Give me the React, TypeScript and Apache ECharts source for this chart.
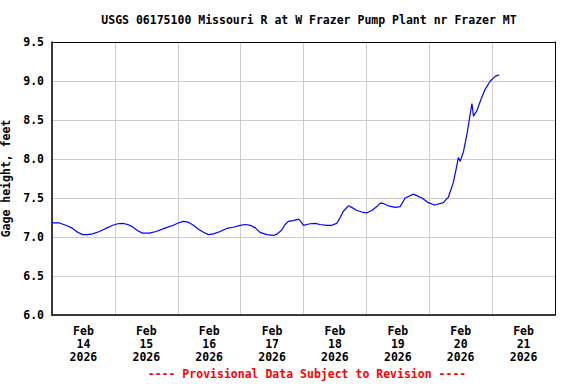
import React, { useEffect, useRef } from "react";
import * as echarts from "echarts";

const titleText = "USGS 06175100 Missouri R at W Frazer Pump Plant nr Frazer MT";
const footerText = "---- Provisional Data Subject to Revision ----";
const yAxisName = "Gage height, feet";
const dayLabels = ["14", "15", "16", "17", "18", "19", "20", "21"];
const monthLabel = "Feb";
const yearLabel = "2026";

// hours since Feb 14 2026 00:00
const hours = [
  0, 2.8, 5.3, 7.9, 9.8, 11.7, 13.6, 15.5, 18.1, 20.6, 23.2, 25.1, 27.0, 28.9,
  30.8, 32.7, 34.6, 37.2, 39.7, 42.9, 46.3, 48.2, 50.1, 52.0, 54.0, 55.9, 57.8,
  59.7, 61.6, 64.2, 66.7, 69.2, 71.8, 73.7, 75.7, 77.5, 79.4, 82.0, 84.5, 86.0,
  87.7, 89.0, 90.2, 92.1, 94.1, 94.7, 96.0, 98.5, 100.4, 102.3, 104.9, 106.8,
  108.7, 110.0, 111.2, 113.1, 114.4, 116.4, 118.3, 120.2, 122.1, 124.0, 125.3,
  126.5, 128.4, 131.0, 132.9, 134.8, 138.0, 141.2, 143.7, 146.0, 149.4, 151.3,
  153.2, 154.5, 155.1, 155.8, 157.1, 158.4, 159.4, 160.3, 160.9, 162.2, 163.8,
  165.3, 167.3, 169.2, 170.7,
];
const gage = [
  7.18, 7.18, 7.15, 7.11, 7.06, 7.03, 7.03, 7.04, 7.07, 7.11, 7.15, 7.17, 7.175,
  7.16, 7.13, 7.08, 7.05, 7.05, 7.07, 7.11, 7.15, 7.18, 7.2, 7.19, 7.15, 7.1,
  7.06, 7.03, 7.04, 7.07, 7.11, 7.125, 7.15, 7.16, 7.15, 7.12, 7.06, 7.03, 7.02,
  7.04, 7.09, 7.16, 7.2, 7.21, 7.23, 7.21, 7.15, 7.17, 7.175, 7.16, 7.15, 7.15,
  7.175, 7.25, 7.33, 7.4, 7.38, 7.34, 7.32, 7.31, 7.34, 7.39, 7.435, 7.43, 7.4,
  7.38, 7.39, 7.5, 7.55, 7.5, 7.44, 7.41, 7.44, 7.51, 7.7, 7.91, 8.02, 7.97,
  8.1, 8.32, 8.53, 8.71, 8.55, 8.62, 8.77, 8.89, 9.0, 9.06, 9.08,
];

const FONT = "DejaVu Sans Mono";

export default function App() {
  const ref = useRef<HTMLDivElement>(null);
  useEffect(() => {
    if (!ref.current) return;
    const chart = echarts.init(ref.current, undefined, { renderer: "svg" });
    const data = hours.map((h, i) => [h, gage[i]]);
    chart.setOption({
      animation: false,
      backgroundColor: "#ffffff",
      textStyle: { fontFamily: FONT },
      title: [
        {
          text: titleText,
          left: 304,
          top: 9,
          padding: 5,
          textAlign: "center",
          textStyle: { fontFamily: FONT, fontSize: 11.5, fontWeight: "bold", color: "#000" },
        },
        {
          text: footerText,
          left: 302,
          top: 363,
          padding: 5,
          textAlign: "center",
          textStyle: { fontFamily: FONT, fontSize: 11.5, fontWeight: "bold", color: "#ff0000" },
        },
      ],
      grid: {
        left: 52,
        right: 21,
        top: 42,
        bottom: 69,
        containLabel: false,
        outerBoundsMode: "none",
      },
      xAxis: [
        {
          type: "value",
          position: "bottom",
          min: 0,
          max: 192,
          interval: 24,
          axisLine: { show: true, onZero: false, lineStyle: { color: "#000", width: 1.5 } },
          axisTick: { show: false },
          axisLabel: { show: false },
          splitLine: { show: true, lineStyle: { color: "#cccccc", width: 1 } },
        },
        {
          type: "value",
          position: "bottom",
          min: 0,
          max: 192,
          interval: 12,
          axisLine: { show: false },
          axisTick: { show: false },
          splitLine: { show: false },
          axisLabel: {
            show: true,
            margin: 9,
            lineHeight: 13,
            fontFamily: FONT,
            fontSize: 11.5,
            fontWeight: "bold",
            color: "#000",
            formatter: (v: number) => {
              if (v % 24 !== 12) return "";
              const d = dayLabels[Math.floor(v / 24)];
              return d ? `${monthLabel}\n${d}\n${yearLabel}` : "";
            },
          },
        },
        {
          type: "value",
          position: "top",
          min: 0,
          max: 192,
          axisLine: { show: true, onZero: false, lineStyle: { color: "#000", width: 1 } },
          axisTick: { show: false },
          axisLabel: { show: false },
          splitLine: { show: false },
        },
      ],
      yAxis: [
        {
          type: "value",
          position: "left",
          min: 6,
          max: 9.5,
          interval: 0.5,
          name: yAxisName,
          nameLocation: "middle",
          nameRotate: 90,
          nameGap: 31,
          nameTextStyle: {
            fontFamily: FONT,
            fontSize: 11.5,
            fontWeight: "bold",
            color: "#000",
          },
          axisLine: { show: true, onZero: false, lineStyle: { color: "#000", width: 1.5 } },
          axisTick: { show: false },
          axisLabel: {
            margin: 8,
            fontFamily: FONT,
            fontSize: 11.5,
            fontWeight: "bold",
            color: "#000",
            formatter: (v: number) => v.toFixed(1),
          },
          splitLine: { show: true, lineStyle: { color: "#cccccc", width: 1 } },
        },
        {
          type: "value",
          position: "right",
          min: 6,
          max: 9.5,
          axisLine: { show: true, onZero: false, lineStyle: { color: "#000", width: 1 } },
          axisTick: { show: false },
          axisLabel: { show: false },
          splitLine: { show: false },
        },
      ],
      series: [
        {
          type: "line",
          xAxisIndex: 0,
          yAxisIndex: 0,
          data,
          showSymbol: false,
          symbol: "none",
          lineStyle: { color: "#0000ff", width: 1.2 },
          z: 3,
        },
      ],
    });
    return () => chart.dispose();
  }, []);
  return <div ref={ref} style={{ width: 576, height: 384, position: "absolute", left: 0, top: 0 }} />;
}
